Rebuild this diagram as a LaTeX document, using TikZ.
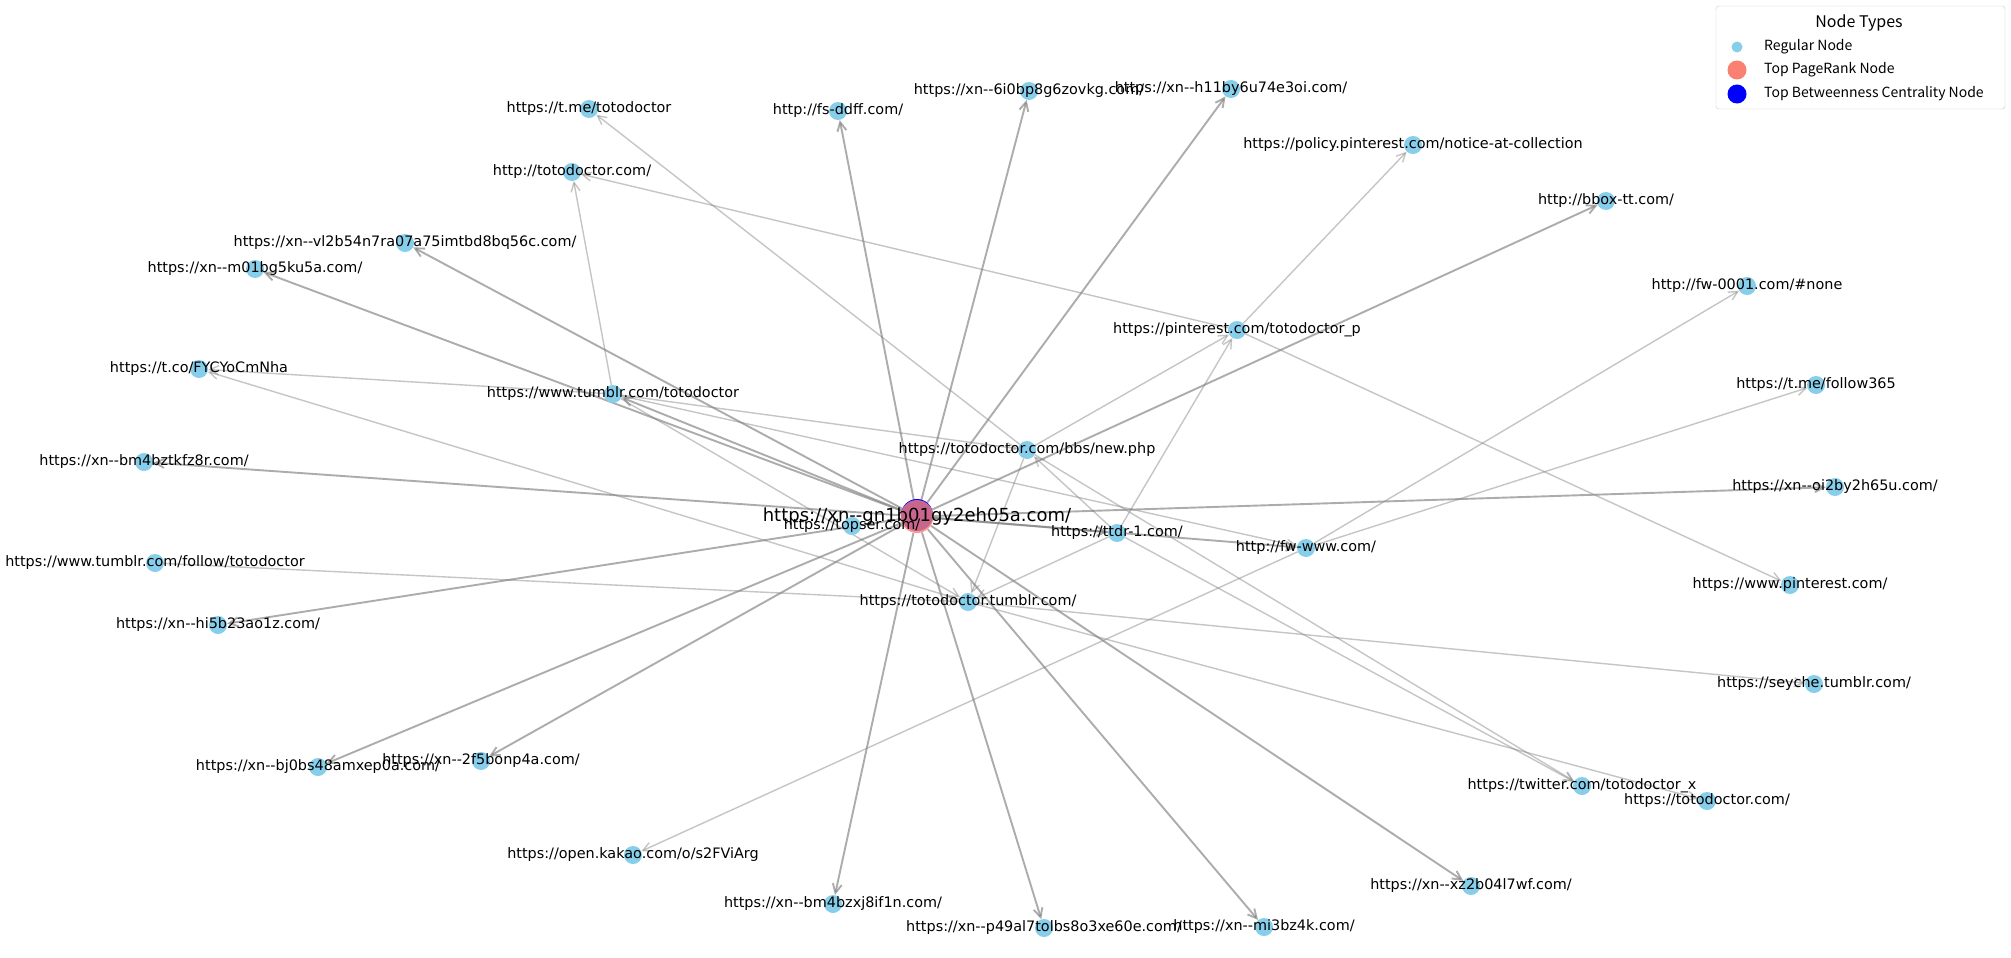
\documentclass[tikz,border=0pt]{standalone}
\usepackage{fontspec}
\setmainfont{DejaVu Sans}
\newfontfamily\legendfont{Noto Sans CJK KR}
\usepackage{xcolor}
\usetikzlibrary{arrows.meta, backgrounds}

\definecolor{skyblue}{RGB}{135,206,235}
\definecolor{salmon}{RGB}{250,128,114}

\tikzset{
  site/.style={circle, fill=skyblue, minimum size=18pt, inner sep=0pt},
  url/.style={font=\fontsize{14.4}{16}\selectfont, inner sep=0pt, text=black},
  link/.style={color=gray, opacity=0.45, line width=1.4pt, -{Straight Barb[length=9pt,width=9pt]}},
  hublink/.style={link, opacity=0.65, line width=1.9pt},
  legtext/.style={font=\legendfont\fontsize{14}{16}\selectfont, anchor=west, inner sep=0pt},
}

\begin{document}
\begin{tikzpicture}[x=1pt, y=-1pt]
    \useasboundingbox (0,0) rectangle (2011,958);

    % the hub: top PageRank and top betweenness at once
    \node[circle, fill=blue, minimum size=32pt, inner sep=0pt] (hubbc) at (917,515) {};
    \node[circle, fill=salmon, fill opacity=0.8, minimum size=33pt, inner sep=0pt] (hub) at (917,516.5) {};
    \node[url, font=\fontsize{18}{20}\selectfont] (hubtext) at (hub) {https://xn-{}-gn1b01gy2eh05a.com/};

    \node[site, label={[url]center:{https://t.me/totodoctor}}] (tmeto) at (589,109) {};
    \node[site, label={[url]center:{http://totodoctor.com/}}] (totohttp) at (572,172) {};
    \node[site, label={[url]center:{http://fs-ddff.com/}}] (fsddff) at (838,111) {};
    \node[site, label={[url]center:{https://xn-{}-6i0bp8g6zovkg.com/}}] (xsix) at (1029,91) {};
    \node[site, label={[url]center:{https://xn-{}-h11by6u74e3oi.com/}}] (xhone) at (1231,89) {};
    \node[site, label={[url]center:{https://policy.pinterest.com/notice-at-collection}}] (policy) at (1413,145) {};
    \node[site, label={[url]center:{http://bbox-tt.com/}}] (bbox) at (1606,201) {};
    \node[site, label={[url]center:{https://xn-{}-vl2b54n7ra07a75imtbd8bq56c.com/}}] (xvl) at (405,243) {};
    \node[site, label={[url]center:{https://xn-{}-m01bg5ku5a.com/}}] (xmo) at (255,269) {};
    \node[site, label={[url]center:{https://pinterest.com/totodoctor\_p}}] (pinp) at (1237,330) {};
    \node[site, label={[url]center:{http://fw-0001.com/\#none}}] (fwone) at (1747,286) {};
    \node[site, label={[url]center:{https://t.co/FYCYoCmNha}}] (tco) at (199,369) {};
    \node[site, label={[url]center:{https://www.tumblr.com/totodoctor}}] (tumblrto) at (613,394) {};
    \node[site, label={[url]center:{https://t.me/follow365}}] (follow) at (1816,385) {};
    \node[site, label={[url]center:{https://totodoctor.com/bbs/new.php}}] (bbs) at (1027,450) {};
    \node[site, label={[url]center:{https://xn-{}-bm4bztkfz8r.com/}}] (xbmt) at (144,462) {};
    \node[site, label={[url]center:{https://topser.com/}}] (topser) at (852,526) {};
    \node[site, label={[url]center:{https://ttdr-1.com/}}] (ttdr) at (1117,533) {};
    \node[site, label={[url]center:{https://xn-{}-oi2by2h65u.com/}}] (xoi) at (1835,487) {};
    \node[site, label={[url]center:{http://fw-www.com/}}] (fwwww) at (1306,548) {};
    \node[site, label={[url]center:{https://www.tumblr.com/follow/totodoctor}}] (tfollow) at (155,563) {};
    \node[site, label={[url]center:{https://totodoctor.tumblr.com/}}] (tototumblr) at (968,602) {};
    \node[site, label={[url]center:{https://www.pinterest.com/}}] (wwwpin) at (1790,585) {};
    \node[site, label={[url]center:{https://xn-{}-hi5b23ao1z.com/}}] (xhi) at (218,625) {};
    \node[site, label={[url]center:{https://seyche.tumblr.com/}}] (seyche) at (1814,684) {};
    \node[site, label={[url]center:{https://xn-{}-bj0bs48amxep0a.com/}}] (xbj) at (318,767) {};
    \node[site, label={[url]center:{https://xn-{}-2f5bonp4a.com/}}] (xtwo) at (481,761) {};
    \node[site, label={[url]center:{https://twitter.com/totodoctor\_x}}] (twitter) at (1582,786) {};
    \node[site, label={[url]center:{https://totodoctor.com/}}] (totohttps) at (1707,801) {};
    \node[site, label={[url]center:{https://open.kakao.com/o/s2FViArg}}] (kakao) at (633,855) {};
    \node[site, label={[url]center:{https://xn-{}-bm4bzxj8if1n.com/}}] (xbmx) at (833,904) {};
    \node[site, label={[url]center:{https://xn-{}-p49al7tolbs8o3xe60e.com/}}] (xp) at (1044,928) {};
    \node[site, label={[url]center:{https://xn-{}-mi3bz4k.com/}}] (xmi) at (1264,927) {};
    \node[site, label={[url]center:{https://xn-{}-xz2b04l7wf.com/}}] (xxz) at (1471,886) {};

    \begin{scope}[on background layer]
        \fill[white] (0,0) rectangle (2011,958);

        \path[hublink]
        (hub) edge (fsddff)
              edge (xsix)
              edge (xhone)
              edge (bbox)
              edge (xvl)
              edge (xmo)
              edge (xbmt)
              edge (xoi)
              edge (xhi)
              edge (xbj)
              edge (xtwo)
              edge (xbmx)
              edge (xp)
              edge (xmi)
              edge (xxz)
              edge (ttdr)
              edge (fwwww)
              edge (tumblrto);

        \path[link]
        (bbs) edge (tmeto)
              edge (pinp)
              edge (tototumblr)
              edge (twitter)
        (tumblrto) edge (totohttp)
              edge (tco)
              edge (bbs)
              edge (fwwww)
              edge (tototumblr)
        (pinp) edge (totohttp)
              edge (policy)
              edge (wwwpin)
        (ttdr) edge (pinp)
              edge (bbs)
              edge (tototumblr)
              edge (twitter)
        (fwwww) edge (fwone)
              edge (follow)
              edge (kakao)
        (tototumblr) edge (tco)
              edge (seyche)
              edge (totohttps)
        (tfollow) edge (tototumblr);
    \end{scope}

    % legend
    \draw[rounded corners=3pt, draw=gray!40, fill=white] (1716,6) rectangle (2005,109);
    \node[font=\legendfont\fontsize{16}{18}\selectfont, inner sep=0pt] (legtitle) at (1859,23) {Node Types};
    \node[circle, fill=skyblue, minimum size=11pt, inner sep=0pt] (legreg) at (1737,47) {};
    \node[circle, fill=salmon, minimum size=19pt, inner sep=0pt] (legpr) at (1737,70) {};
    \node[circle, fill=blue, minimum size=19pt, inner sep=0pt] (legbc) at (1737,94) {};
    \node[legtext] (legregtext) at (1764,47) {Regular Node};
    \node[legtext] (legprtext) at (1764,70) {Top PageRank Node};
    \node[legtext] (legbctext) at (1764,94) {Top Betweenness Centrality Node};

\end{tikzpicture}
\end{document}
